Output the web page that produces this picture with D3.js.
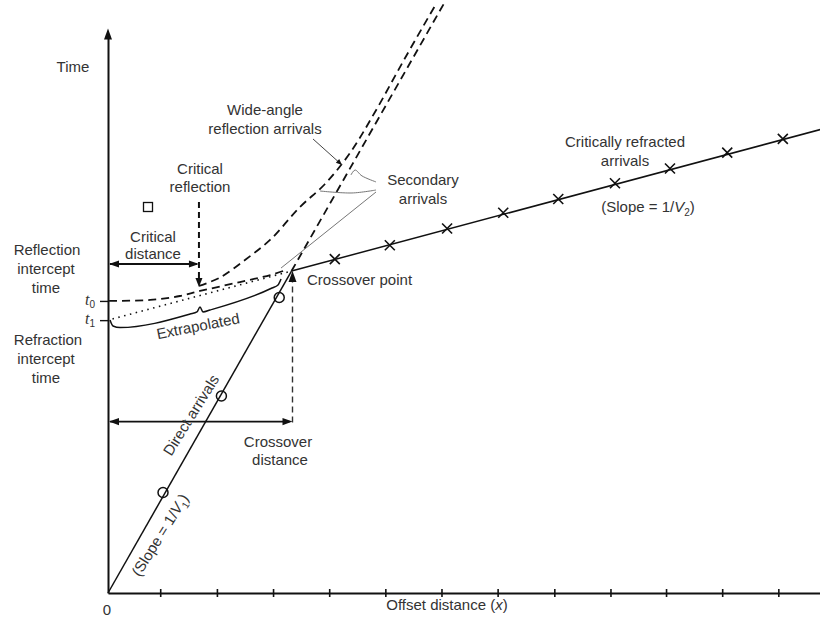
<!DOCTYPE html>
<html><head><meta charset="utf-8">
<script src="https://cdn.jsdelivr.net/npm/d3@7"></script>
<style>
html,body{margin:0;padding:0;background:#fff;}
svg{display:block;background:#fff;}
text{font-family:"Liberation Sans",Arial,Helvetica,sans-serif;font-size:15px;fill:#333;}
</style></head><body>
<svg id="chart" width="820" height="622"></svg>
<script>
// Travel-time graph for a two-layer refraction survey (offset in arbitrary units, time in arbitrary units)
const directOffsets = [0.98, 2.02, 3.05];
const directTimes = [1.02, 2.00, 3.00];
const refractedOffsets = [4.04, 5.02, 6.04, 7.04, 8.02, 9.03, 10.01, 11.03, 12.02];
const refractedTimes = [3.39, 3.53, 3.70, 3.86, 4.00, 4.16, 4.31, 4.47, 4.61];
const offsetTicks = [0.93, 1.94, 2.94, 3.94, 4.94, 5.94, 6.94, 7.95, 8.95, 9.94, 10.94, 11.94];
const reflectionIntercept = 2.965;   // t0
const refractionIntercept = 2.77;    // t1
const slowness1 = 1.0;               // 1/V1
const slowness2 = 0.1525;            // 1/V2
const criticalDistance = 1.62;
const timeAxisTop = 5.73;
// reflection branch from t0 towards the crossover
const reflNearOffsets = [0.02, 0.75, 1.28, 1.64, 2.35, 2.89, 3.12];
const reflNearTimes = [2.965, 2.975, 3.015, 3.066, 3.157, 3.228, 3.269];
// wide-angle reflection branch
const wideOffsets = [1.621, 1.995, 2.440, 2.886, 3.420, 3.865, 4.311, 4.756, 5.291, 5.843];
const wideTimes = [3.117, 3.203, 3.381, 3.584, 3.919, 4.152, 4.467, 4.883, 5.431, 5.980];
// brace under the extrapolated segment
const braceOffsets = [0.036, 0.089, 0.214, 1.461, 1.585, 1.639, 1.692, 1.817, 2.921, 3.028, 3.082];
const braceTimes = [2.772, 2.711, 2.695, 2.832, 2.853, 2.904, 2.853, 2.873, 3.096, 3.127, 3.188];
// leaders for "Secondary arrivals"
const leaderLong = {u: [3.082, 4.774], t: [3.299, 4.071]};
const leaderMid = {u: [3.776, 4.346, 4.774], t: [4.081, 4.061, 4.091]};
const leaderHook = {u: [4.328, 4.40, 4.524, 4.774], t: [4.244, 4.294, 4.234, 4.173]};
const leaderWide = {u: [3.652, 4.168], t: [4.609, 4.345]};

const svg = d3.select("#chart");
const x = d3.scaleLinear().domain([0, 12.7]).range([108, 821]);
const y = d3.scaleLinear().domain([0, 6.02]).range([593, 0]);
const ink = "#111";

const crossU = refractionIntercept / (slowness1 - slowness2);
const crossT = slowness1 * crossU;

const line = d3.line().x(d => x(d[0])).y(d => y(d[1]));
const smooth = d3.line().x(d => x(d[0])).y(d => y(d[1])).curve(d3.curveCatmullRom.alpha(0.5));
const monotone = d3.line().x(d => x(d[0])).y(d => y(d[1])).curve(d3.curveMonotoneX);
const zip = (a, b) => a.map((v, i) => [v, b[i]]);

function arrowHead(px, py, angleDeg, len = 10, half = 3.6) {
  const a = angleDeg * Math.PI / 180;
  const bx = px - len * Math.cos(a), by = py - len * Math.sin(a);
  const nx = -Math.sin(a) * half, ny = Math.cos(a) * half;
  svg.append("path")
    .attr("d", `M${px},${py}L${bx + nx},${by + ny}L${bx - nx},${by - ny}Z`)
    .attr("fill", ink);
}

// axes
const xAxis = d3.axisBottom(x).tickValues(offsetTicks).tickFormat("").tickSizeOuter(0).tickSizeInner(4);
const gx = svg.append("g").attr("transform", `translate(0,${y(0)})`).call(xAxis);
gx.select(".domain").attr("stroke", ink).attr("stroke-width", 2);
gx.selectAll(".tick line").attr("y1", -4).attr("y2", 4).attr("stroke", ink).attr("stroke-width", 1.6);

const yAxisScale = y.copy().domain([0, timeAxisTop]).range([y(0), y(timeAxisTop) + 9]);
const yAxis = d3.axisLeft(yAxisScale).tickValues([reflectionIntercept, refractionIntercept])
  .tickFormat("").tickSizeOuter(0).tickSizeInner(8);
const gy = svg.append("g").attr("transform", `translate(${x(0)},0)`).call(yAxis);
gy.select(".domain").attr("stroke", ink).attr("stroke-width", 2);
gy.selectAll(".tick line").attr("stroke", ink).attr("stroke-width", 1.4)
  .attr("transform", d => `translate(0,${y(d) - yAxisScale(d)})`);
arrowHead(x(0), y(timeAxisTop), -90, 11, 4);

// direct arrivals and their dashed continuation
svg.append("path").attr("d", line([[0, 0], [crossU, crossT]]))
  .attr("fill", "none").attr("stroke", ink).attr("stroke-width", 1.5);
svg.append("path").attr("d", line([[crossU, crossT], [6.02 / slowness1, 6.02]]))
  .attr("fill", "none").attr("stroke", ink).attr("stroke-width", 1.8).attr("stroke-dasharray", "8,5");

// critically refracted arrivals
const uEnd = x.domain()[1];
svg.append("path").attr("d", line([[crossU, crossT], [uEnd, refractionIntercept + slowness2 * uEnd]]))
  .attr("fill", "none").attr("stroke", ink).attr("stroke-width", 1.5);
// extrapolation back to t1
svg.append("path").attr("d", line([[0.08, refractionIntercept + slowness2 * 0.08], [crossU, crossT]]))
  .attr("fill", "none").attr("stroke", ink).attr("stroke-width", 1.6).attr("stroke-dasharray", "1.5,4.5");

// reflection arrivals
svg.append("path").attr("d", smooth(zip(reflNearOffsets, reflNearTimes)))
  .attr("fill", "none").attr("stroke", ink).attr("stroke-width", 1.8).attr("stroke-dasharray", "8,5");
svg.append("path").attr("d", smooth(zip(wideOffsets, wideTimes)))
  .attr("fill", "none").attr("stroke", ink).attr("stroke-width", 1.8).attr("stroke-dasharray", "8,5");

// brace
svg.append("path").attr("d", monotone(zip(braceOffsets, braceTimes)))
  .attr("fill", "none").attr("stroke", ink).attr("stroke-width", 1.5);

// markers
svg.selectAll(".dir").data(zip(directOffsets, directTimes)).join("circle")
  .attr("cx", d => x(d[0])).attr("cy", d => y(d[1])).attr("r", 5)
  .attr("fill", "none").attr("stroke", ink).attr("stroke-width", 1.5);
svg.selectAll(".ref").data(zip(refractedOffsets, refractedTimes)).join("path")
  .attr("transform", d => `translate(${x(d[0])},${y(d[1])})`)
  .attr("d", "M-5,-5L5,5M-5,5L5,-5")
  .attr("stroke", ink).attr("stroke-width", 1.6);

// critical distance and reflection
const tCritArrow = 3.34;
svg.append("line").attr("x1", x(0) + 2).attr("x2", x(criticalDistance) - 2)
  .attr("y1", y(tCritArrow)).attr("y2", y(tCritArrow)).attr("stroke", ink).attr("stroke-width", 1.8);
arrowHead(x(0) + 1, y(tCritArrow), 180);
arrowHead(x(criticalDistance), y(tCritArrow), 0);
svg.append("line").attr("x1", x(criticalDistance)).attr("x2", x(criticalDistance))
  .attr("y1", y(3.97)).attr("y2", y(3.107) - 8).attr("stroke", ink).attr("stroke-width", 2)
  .attr("stroke-dasharray", "6,4");
arrowHead(x(criticalDistance), y(3.107), 90, 9, 3.5);

// crossover distance
const tCrossArrow = 1.74;
svg.append("line").attr("x1", x(0) + 2).attr("x2", x(crossU) - 2)
  .attr("y1", y(tCrossArrow)).attr("y2", y(tCrossArrow)).attr("stroke", ink).attr("stroke-width", 1.8);
arrowHead(x(0) + 1, y(tCrossArrow), 180);
arrowHead(x(crossU) + 1, y(tCrossArrow), 0);
svg.append("line").attr("x1", x(crossU) + 1).attr("x2", x(crossU) + 1)
  .attr("y1", y(1.73)).attr("y2", y(crossT) + 8).attr("stroke", "#333").attr("stroke-width", 1.4)
  .attr("stroke-dasharray", "6,4");
arrowHead(x(crossU) + 1, y(crossT), -90, 11, 4);

// open square symbol
svg.append("rect").attr("x", 143.5).attr("y", 202.5).attr("width", 9).attr("height", 9)
  .attr("fill", "none").attr("stroke", ink).attr("stroke-width", 1.3);

// leaders
[leaderLong, leaderMid, leaderHook].forEach(l => {
  svg.append("path").attr("d", smooth(zip(l.u, l.t))).attr("fill", "none")
    .attr("stroke", "#666").attr("stroke-width", 0.9);
});
svg.append("path").attr("d", line(zip(leaderWide.u, leaderWide.t))).attr("fill", "none")
  .attr("stroke", "#444").attr("stroke-width", 1);
arrowHead(x(leaderWide.u[1]), y(leaderWide.t[1]), 42, 6, 2.5);

// labels
function label(tx, ty, str, anchor = "middle") {
  return svg.append("text").attr("x", tx).attr("y", ty).attr("text-anchor", anchor).text(str);
}
label(73, 72, "Time");
label(265, 115, "Wide-angle");
label(265, 134, "reflection arrivals");
label(200, 174, "Critical");
label(200, 192, "reflection");
label(153, 242, "Critical");
label(153, 259, "distance");
label(47, 255, "Reflection");
label(46, 274, "intercept");
label(46, 293, "time");
label(48, 345, "Refraction");
label(46, 364, "intercept");
label(46, 383, "time");
label(307, 285, "Crossover point", "start");
label(278, 447, "Crossover");
label(280, 465, "distance");
label(423, 185, "Secondary");
label(423, 204, "arrivals");
label(625, 147, "Critically refracted");
label(625, 166, "arrivals");
label(107, 615, "0");

const slope2 = label(648, 212, "(Slope = 1/");
slope2.append("tspan").style("font-style", "italic").text("V");
slope2.append("tspan").attr("font-size", 10).attr("dy", 4).text("2");
slope2.append("tspan").attr("dy", -4).text(")");

const offLbl = label(447, 610, "Offset distance (");
offLbl.append("tspan").style("font-style", "italic").text("x");
offLbl.append("tspan").text(")");

// intercept labels on the time axis
[[reflectionIntercept, "0"], [refractionIntercept, "1"]].forEach(([tv, sub]) => {
  const t = svg.append("text").attr("x", 85).attr("y", y(tv) + 4);
  t.append("tspan").style("font-family", "'Liberation Serif',serif").style("font-style", "italic")
    .attr("font-size", 16).text("t");
  t.append("tspan").attr("font-size", 10).attr("dy", 3).text(sub);
});

// rotated labels
svg.append("text").attr("transform", "translate(198,326) rotate(-11)")
  .attr("text-anchor", "middle").attr("dy", "0.35em").text("Extrapolated");
svg.append("text").attr("transform", "translate(191,415) rotate(-58)")
  .attr("text-anchor", "middle").attr("dy", "0.35em").text("Direct arrivals");
const slope1 = svg.append("text").attr("transform", "translate(160,535) rotate(-58)")
  .attr("text-anchor", "middle").attr("dy", "0.35em").text("(Slope = 1/");
slope1.append("tspan").style("font-style", "italic").text("V");
slope1.append("tspan").attr("font-size", 10).attr("dy", 4).text("1");
slope1.append("tspan").attr("dy", -4).text(")");
</script>
</body></html>
